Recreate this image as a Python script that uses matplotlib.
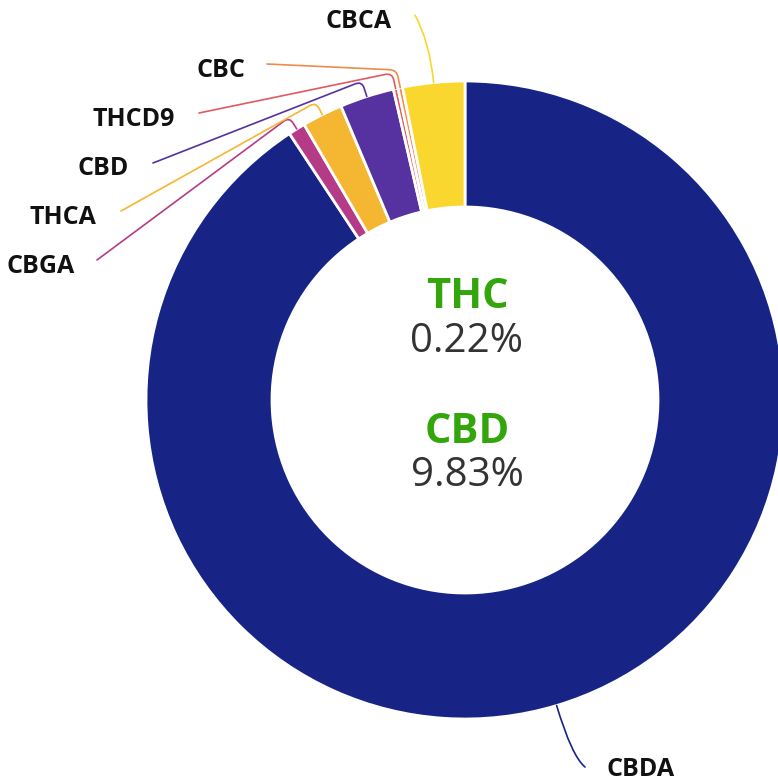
import numpy as np
import matplotlib
matplotlib.use("Agg")
import matplotlib.pyplot as plt
from matplotlib.path import Path
from matplotlib.patches import PathPatch

# slices, clockwise from 12 o'clock
names = ["CBDA", "CBGA", "THCA", "CBD", "THCD9", "CBC", "CBCA"]
values = [10.85, 0.103, 0.246, 0.329, 0.028, 0.028, 0.375]
colors = ["#172486", "#b53b87", "#f5b732", "#5532a0", "#e15a5f", "#f08a4b", "#f9d72f"]

thc_total = "0.22%"
cbd_total = "9.83%"

W, H = 778, 784
cx, cy = 465, H - 400   # donut centre in pixel units (y up)
R, ring = 319, 126

# label layout: text pos (px from top-left), alignment, line end, bend radius, corner size
labels = {
    "CBDA":  ((607, 770), "left",  (585, 767), 372, None),
    "CBGA":  ((75, 266),  "right", (97, 260),  333, 7),
    "THCA":  ((96, 217),  "right", (121, 211), 333, 7),
    "CBD":   ((129, 168), "right", (153, 163), 335, 7),
    "THCD9": ((175, 119), "right", (199, 113), 335, 7),
    "CBC":   ((245, 70),  "right", (267, 64),  337, 7),
    "CBCA":  ((392, 21),  "right", (415, 15),  360, None),
}

fig = plt.figure(figsize=(W / 100, H / 100), dpi=100)
ax = fig.add_axes([0, 0, 1, 1])

wedges, _ = ax.pie(values, colors=colors, radius=R, center=(cx, cy),
                   startangle=90, counterclock=False,
                   wedgeprops=dict(width=ring, edgecolor="white", linewidth=2))

ax.set_xlim(0, W)
ax.set_ylim(0, H)
ax.set_aspect("equal")
ax.axis("off")


def connector(A, B, C, d):
    A, B, C = map(np.asarray, (A, B, C))
    if d is None:
        verts = [A, B, C]
        codes = [Path.MOVETO, Path.CURVE3, Path.CURVE3]
    else:
        u1 = (A - B) / np.linalg.norm(A - B)
        u2 = (C - B) / np.linalg.norm(C - B)
        verts = [A, B + d * u1, B, B + d * u2, C]
        codes = [Path.MOVETO, Path.LINETO, Path.CURVE3, Path.CURVE3, Path.LINETO]
    return Path(verts, codes)


for w, name, col in zip(wedges, names, colors):
    (tx, ty), ha, (ex, ey), rb, d = labels[name]
    mid = np.deg2rad((w.theta1 + w.theta2) / 2)
    dirv = np.array([np.cos(mid), np.sin(mid)])
    A = np.array([cx, cy]) + R * dirv
    B = np.array([cx, cy]) + rb * dirv
    C = (ex, H - ey)
    ax.add_patch(PathPatch(connector(A, B, C, d), facecolor="none",
                           edgecolor=col, linewidth=1.2, capstyle="round"))
    ax.text(tx, H - ty, name, ha=ha, va="center", fontsize=18,
            fontweight="bold", family=["Open Sans", "DejaVu Sans"], color="#111111")

# centre text
green = "#33a60c"
ax.text(467, H - 297, "THC", ha="center", va="center", fontsize=30,
        fontweight="bold", color=green, family=["Open Sans", "DejaVu Sans"])
ax.text(467, H - 342, thc_total, ha="center", va="center", fontsize=29,
        color="#333333", family=["Open Sans", "DejaVu Sans"])
ax.text(467, H - 432, "CBD", ha="center", va="center", fontsize=30,
        fontweight="bold", color=green, family=["Open Sans", "DejaVu Sans"])
ax.text(467, H - 476, cbd_total, ha="center", va="center", fontsize=29,
        color="#333333", family=["Open Sans", "DejaVu Sans"])

fig.savefig("out.png", dpi=100)
